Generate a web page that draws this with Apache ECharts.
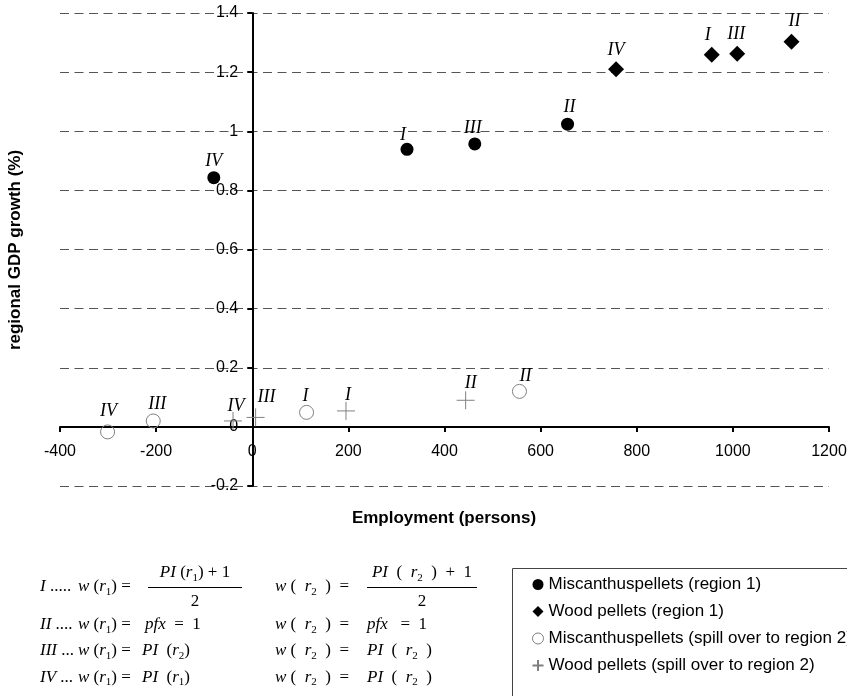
<!DOCTYPE html>
<html><head><meta charset="utf-8">
<script src="https://cdn.jsdelivr.net/npm/echarts@6/dist/echarts.min.js"></script>
<style>html,body{margin:0;padding:0;background:#fff}#c{width:847px;height:696px}</style>
</head><body><div id="c"></div>
<script>
// ---- data (order: I, II, III, IV) ----
const caseLabels = ['I', 'II', 'III', 'IV'];
const miscR1X = [322, 656, 463, -80];
const miscR1Y = [0.939, 1.024, 0.957, 0.843];
const woodR1X = [956, 1122, 1009, 757];
const woodR1Y = [1.259, 1.303, 1.262, 1.210];
const miscR2X = [113, 556, -206, -301];
const miscR2Y = [0.049, 0.120, 0.020, -0.017];
const woodR2X = [195, 444, 7, -40];
const woodR2Y = [0.054, 0.090, 0.032, 0.020];
const seriesNames = ['Miscanthuspellets (region 1)', 'Wood pellets (region 1)',
  'Miscanthuspellets (spill over to region 2)', 'Wood pellets (spill over to region 2)'];
// label nudges (pixels, label centre relative to marker centre)
const miscR1Off = [[-4,-14],[2,-17],[-2,-16],[0,-16]];
const woodR1Off = [[-4,-19],[3,-20],[-1,-20],[0,-19]];
const miscR2Off = [[-1,-16],[6,-15],[4,-17],[1,-21]];
const woodR2Off = [[2,-16],[5,-17],[11,-20],[3,-15]];

const SANS = '"Liberation Sans", Arial, sans-serif';
const SERIF = '"Liberation Serif", "Times New Roman", serif';

function mk(xs, ys, offs) {
  return xs.map((x, i) => ({ name: caseLabels[i], value: [x, ys[i]], label: { offset: offs[i] } }));
}
const ptLabel = { show: true, position: 'inside', formatter: '{b}', fontFamily: SERIF, fontStyle: 'italic', fontSize: 18, color: '#000', opacity: 1 };

// ---- formula layout helpers ----
const FS = 17, SS = 11;
const fonts = { i: 'italic ' + FS + 'px ' + SERIF, u: FS + 'px ' + SERIF, s: SS + 'px ' + SERIF };
const mctx = document.createElement('canvas').getContext('2d');
function tw(k, t) { mctx.font = fonts[k]; return mctx.measureText(t).width; }
function runW(tokens) { return tokens.reduce((a, [k, t]) => a + tw(k, t), 0); }
const els = [];
function place(tokens, x, y) {
  tokens.forEach(([k, t]) => {
    els.push({ type: 'text', silent: true, x: x, y: y + (k === 's' ? 5 : 0),
      style: { text: t, font: fonts[k], fill: '#000', textAlign: 'left', textVerticalAlign: 'middle', align: 'left', verticalAlign: 'middle' } });
    x += tw(k, t);
  });
  return x;
}
function frac(num, den, x0, x1, y) {
  const cx = (x0 + x1) / 2;
  place(num, cx - runW(num) / 2, y - 14);
  place(den, cx - runW(den) / 2, y + 15);
  els.push({ type: 'line', silent: true, shape: { x1: x0, y1: y + 0.5, x2: x1, y2: y + 0.5 }, style: { stroke: '#000', lineWidth: 1 } });
}
const rowY = [587, 625, 651, 677.5];
const rowTags = [[['i', 'I'], ['u', ' .....']], [['i', 'II'], ['u', ' ....']], [['i', 'III'], ['u', ' ...']], [['i', 'IV'], ['u', ' ...']]];
const lhs1 = [['i', 'w'], ['u', ' ('], ['i', 'r'], ['s', '1'], ['u', ') =']];
const lhs2 = [['i', 'w'], ['u', ' (  '], ['i', 'r'], ['s', '2'], ['u', '  )  =']];
rowY.forEach((y, r) => { place(rowTags[r], 40, y); place(lhs1, 78, y); place(lhs2, 275, y); });
frac([['i', 'PI'], ['u', ' ('], ['i', 'r'], ['s', '1'], ['u', ') + 1']], [['u', '2']], 148, 242, rowY[0]);
frac([['i', 'PI'], ['u', '  (  '], ['i', 'r'], ['s', '2'], ['u', '  )  +  1']], [['u', '2']], 367, 477, rowY[0]);
place([['i', 'pfx'], ['u', '  =  1']], 145, rowY[1]);
place([['i', 'pfx'], ['u', '   =  1']], 367, rowY[1]);
place([['i', 'PI'], ['u', '  ('], ['i', 'r'], ['s', '2'], ['u', ')']], 142, rowY[2]);
place([['i', 'PI'], ['u', '  (  '], ['i', 'r'], ['s', '2'], ['u', '  )']], 367, rowY[2]);
place([['i', 'PI'], ['u', '  ('], ['i', 'r'], ['s', '1'], ['u', ')']], 142, rowY[3]);
place([['i', 'PI'], ['u', '  (  '], ['i', 'r'], ['s', '2'], ['u', '  )']], 367, rowY[3]);

// titles & legend frame
els.push({ type: 'text', silent: true, x: 444, y: 518,
  style: { text: 'Employment (persons)', font: 'bold 17px ' + SANS, fill: '#000', textAlign: 'center', textVerticalAlign: 'middle', align: 'center', verticalAlign: 'middle' } });
els.push({ type: 'text', silent: true, x: 15, y: 250, rotation: Math.PI / 2,
  style: { text: 'regional GDP growth (%)', font: 'bold 17px ' + SANS, fill: '#000', textAlign: 'center', textVerticalAlign: 'middle', align: 'center', verticalAlign: 'middle' } });
els.push({ type: 'rect', silent: true, shape: { x: 512.5, y: 568.5, width: 400, height: 200 }, style: { fill: 'none', stroke: '#444', lineWidth: 1 } });

const chart = echarts.init(document.getElementById('c'), null, { renderer: 'canvas' });
chart.setOption({
  animation: false,
  backgroundColor: '#fff',
  grid: { left: 60, right: 18, top: 13, bottom: 210, containLabel: false, outerBoundsMode: 'none' },
  xAxis: {
    type: 'value', min: -400, max: 1200, interval: 200, position: 'bottom', offset: 0,
    axisLine: { onZero: false, lineStyle: { color: '#000', width: 2 } },
    axisTick: { show: true, length: 5, lineStyle: { color: '#000', width: 2 } },
    axisLabel: { color: '#000', fontFamily: SANS, fontSize: 16, margin: 17, hideOverlap: false, showMinLabel: true, showMaxLabel: true,
      formatter: v => String(v) },
    splitLine: { show: false }
  },
  yAxis: {
    type: 'value', min: -0.2, max: 1.4, interval: 0.2, position: 'left', offset: 0,
    axisLine: { show: true, onZero: false, lineStyle: { color: '#000', width: 2 } },
    axisTick: { show: true, length: 5, lineStyle: { color: '#000', width: 2 } },
    axisLabel: { color: '#000', fontFamily: SANS, fontSize: 16, margin: 14, hideOverlap: false, showMinLabel: true, showMaxLabel: true,
      formatter: v => String(Math.round(v * 10) / 10) },
    splitLine: { show: true, lineStyle: { color: '#555', width: 1, type: [9, 5.5] } }
  },
  legend: {
    orient: 'vertical', left: 530, top: 576, padding: 0, itemGap: 10, itemWidth: 11, itemHeight: 11,
    selectedMode: false,
    data: [
      { name: seriesNames[0] },
      { name: seriesNames[1] },
      { name: seriesNames[2], itemStyle: { borderWidth: 1, borderColor: '#808080', color: 'rgba(255,255,255,0)' } },
      { name: seriesNames[3] }
    ],
    textStyle: { fontFamily: SANS, fontSize: 17, color: '#000' }
  },
  graphic: { elements: els },
  series: [
    { name: seriesNames[0], type: 'scatter', symbol: 'circle', symbolSize: 13,
      itemStyle: { color: '#000', opacity: 1 }, label: ptLabel, data: mk(miscR1X, miscR1Y, miscR1Off) },
    { name: seriesNames[1], type: 'scatter', symbol: 'diamond', symbolSize: 16,
      itemStyle: { color: '#000', opacity: 1 }, label: ptLabel, data: mk(woodR1X, woodR1Y, woodR1Off) },
    { name: seriesNames[2], type: 'scatter', symbol: 'circle', symbolSize: 14,
      itemStyle: { color: 'rgba(255,255,255,0)', borderColor: '#808080', borderWidth: 1, opacity: 1 }, label: ptLabel, data: mk(miscR2X, miscR2Y, miscR2Off) },
    { name: seriesNames[3], type: 'scatter', symbol: 'path://M0,9L18,9M9,0L9,18', symbolSize: 18,
      itemStyle: { color: 'none', borderColor: '#808080', borderWidth: 1, opacity: 1 }, label: ptLabel, data: mk(woodR2X, woodR2Y, woodR2Off) }
  ]
});
// move the axes so they cross at the origin (labels follow the axis lines)
const x0px = chart.convertToPixel({ xAxisIndex: 0 }, 0);
const y0px = chart.convertToPixel({ yAxisIndex: 0 }, 0);
const gridLeft = chart.convertToPixel({ xAxisIndex: 0 }, -400);
const gridBottom = chart.convertToPixel({ yAxisIndex: 0 }, -0.2);
chart.setOption({
  xAxis: { offset: -(gridBottom - y0px) },
  yAxis: { offset: -(x0px - gridLeft) }
});
</script></body></html>
